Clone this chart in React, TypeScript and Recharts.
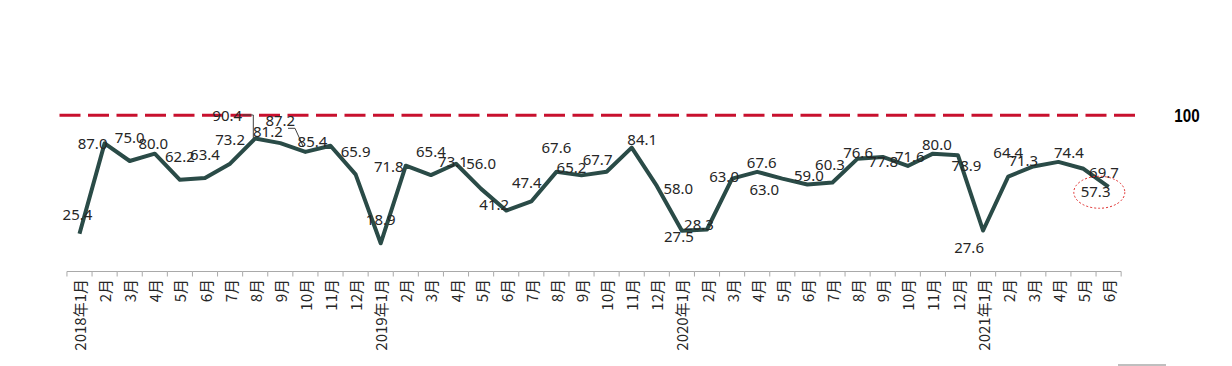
import React from 'react';
import { LineChart, Line, XAxis, YAxis, ReferenceLine, LabelList } from 'recharts';

// month tick labels, 2018-01 .. 2021-06
const months = [
  '2018年1月', '2月', '3月', '4月', '5月', '6月', '7月', '8月', '9月', '10月', '11月', '12月',
  '2019年1月', '2月', '3月', '4月', '5月', '6月', '7月', '8月', '9月', '10月', '11月', '12月',
  '2020年1月', '2月', '3月', '4月', '5月', '6月', '7月', '8月', '9月', '10月', '11月', '12月',
  '2021年1月', '2月', '3月', '4月', '5月', '6月',
];

const values = [
  25.4, 87.0, 75.0, 80.0, 62.2, 63.4, 73.2, 90.4, 87.2, 81.2, 85.4, 65.9,
  18.9, 71.8, 65.4, 73.1, 56.0, 41.2, 47.4, 67.6, 65.2, 67.7, 84.1, 58.0,
  27.5, 28.3, 63.0, 67.6, 63.0, 59.0, 60.3, 76.6, 77.8, 71.6, 80.0, 78.9,
  27.6, 64.4, 71.3, 74.4, 69.7, 57.3,
];

const threshold = 100;

// where each data label sits relative to its point (dx, dy)
const labelOffsets: [number, number][] = [
  [-2, -20], [-12, 0], [0, -24], [-1.5, -11], [0, -24], [0, -24], [0, -24.5], [-28, -23], [0, -23.5], [-37.5, -21], [-18, -5], [0, -23.5],
  [0, -24], [-17, 0], [0, -24.5], [-3, -3], [0, -25.5], [-12, -6.5], [-4.5, -19], [0, -24.5], [-10, -8], [-9, -12.5], [10.5, -8.5], [21.5, 2.5],
  [-3, 5], [-8, -5.5], [-8, -3], [4.5, -9.5], [-18, 10], [1.5, -9.5], [-2.5, -19], [0.5, -7], [0.5, 4], [2, -10], [4, -9.5], [8.5, 9.5],
  [-14, 16], [0, -25], [-10, -6], [10.5, -9.5], [20.5, 3], [-13, 4],
];

// leader lines for the two dragged labels
const leaders: Record<number, [number, number][]> = {
  7: [[-12.5, -23.4], [-1.9, -23.4], [-1.9, 0]],
  8: [[7.7, -14.8], [14.7, -14.8], [23, 3.6]],
};

const data = values.map((v, i) => ({ idx: i, value: v, limit: threshold }));

const HALF = 12.55;
const AXIS_COLOR = '#a9a9a9';

const AxisTick = (props: any) => {
  const { x, y, payload } = props;
  const i = Number(payload.value);
  const yy = y + 0.5;
  return (
    <g>
      <line x1={x - HALF} x2={x + HALF} y1={yy} y2={yy} stroke={AXIS_COLOR} strokeWidth={1} />
      <line x1={x - HALF} x2={x - HALF} y1={yy} y2={yy + 5} stroke={AXIS_COLOR} strokeWidth={1} />
      {i === months.length - 1 && (
        <line x1={x + HALF} x2={x + HALF} y1={yy} y2={yy + 5} stroke={AXIS_COLOR} strokeWidth={1} />
      )}
      <text
        transform={`translate(${x},${y + 8}) rotate(-90)`}
        textAnchor="end"
        dominantBaseline="central"
        fontSize={15}
        fontFamily="'Noto Sans CJK SC', 'Noto Sans', sans-serif"
        fill="#262626"
      >
        {months[i]}
      </text>
    </g>
  );
};

const PointLabel = (props: any) => {
  const { x, y, value, index } = props;
  const [dx, dy] = labelOffsets[index] || [0, -24];
  const lead = leaders[index];
  return (
    <g>
      {lead && (
        <polyline
          points={lead.map(([a, b]) => `${x + a},${y + b}`).join(' ')}
          fill="none"
          stroke="#404040"
          strokeWidth={1}
        />
      )}
      {index === values.length - 1 && (
        <ellipse cx={x - 9.3} cy={y + 5.3} rx={25.5} ry={16} fill="none" stroke="#e03030" strokeWidth={1} strokeDasharray="2 2" />
      )}
      <text
        x={x + dx}
        y={y + dy}
        textAnchor="middle"
        dominantBaseline="central"
        fontSize={15}
        fontFamily="'Noto Sans', sans-serif"
        fill="#262626"
      >
        {Number(value).toFixed(1)}
      </text>
    </g>
  );
};

// condensed bold "100" to the right of the dashed line
const ThresholdLabel = (props: any) => {
  const { viewBox } = props;
  if (!viewBox) return null;
  const cx = viewBox.x + viewBox.width + 52;
  const cy = viewBox.y;
  return (
    <text
      transform={`translate(${cx},${cy}) scale(0.8,1)`}
      textAnchor="middle"
      dominantBaseline="central"
      fontSize={19}
      fontWeight="bold"
      fontFamily="'Liberation Sans', Arial, sans-serif"
      fill="#000"
    >
      {threshold}
    </text>
  );
};

export default function App() {
  return (
    <div style={{ position: 'relative', width: 1232, height: 366, background: '#fff' }}>
      <style>{`body{margin:0}`}</style>
      <LineChart width={1232} height={366} data={data} margin={{ top: 95, right: 97, bottom: 5, left: 58 }}>
        <XAxis
          dataKey="idx"
          type="category"
          interval={0}
          height={90}
          axisLine={false}
          tickLine={false}
          tickSize={0}
          tickMargin={0}
          padding={{ left: 21.5, right: 26.4 }}
          tick={<AxisTick />}
        />
        <YAxis yAxisId="main" type="number" domain={[0, 120]} allowDataOverflow hide width={0} />
        <YAxis yAxisId="ref" type="number" domain={[0, 113]} allowDataOverflow hide width={0} orientation="right" />
        {/* invisible carrier so the secondary axis has a series */}
        <Line
          yAxisId="ref"
          dataKey="limit"
          stroke="none"
          strokeWidth={0}
          dot={false}
          activeDot={false}
          legendType="none"
          isAnimationActive={false}
        />
        <ReferenceLine
          yAxisId="ref"
          y={threshold}
          stroke="#c8102e"
          strokeWidth={3}
          strokeDasharray="21 7.5"
          ifOverflow="visible"
          label={<ThresholdLabel />}
        />
        <Line
          yAxisId="main"
          type="linear"
          dataKey="value"
          stroke="#2a4b47"
          strokeWidth={4}
          strokeLinejoin="round"
          dot={false}
          activeDot={false}
          isAnimationActive={false}
        >
          <LabelList dataKey="value" content={<PointLabel />} />
        </Line>
      </LineChart>
      <div style={{ position: 'absolute', left: 1118, top: 364, width: 48, height: 2, background: '#bfbfbf' }} />
    </div>
  );
}
